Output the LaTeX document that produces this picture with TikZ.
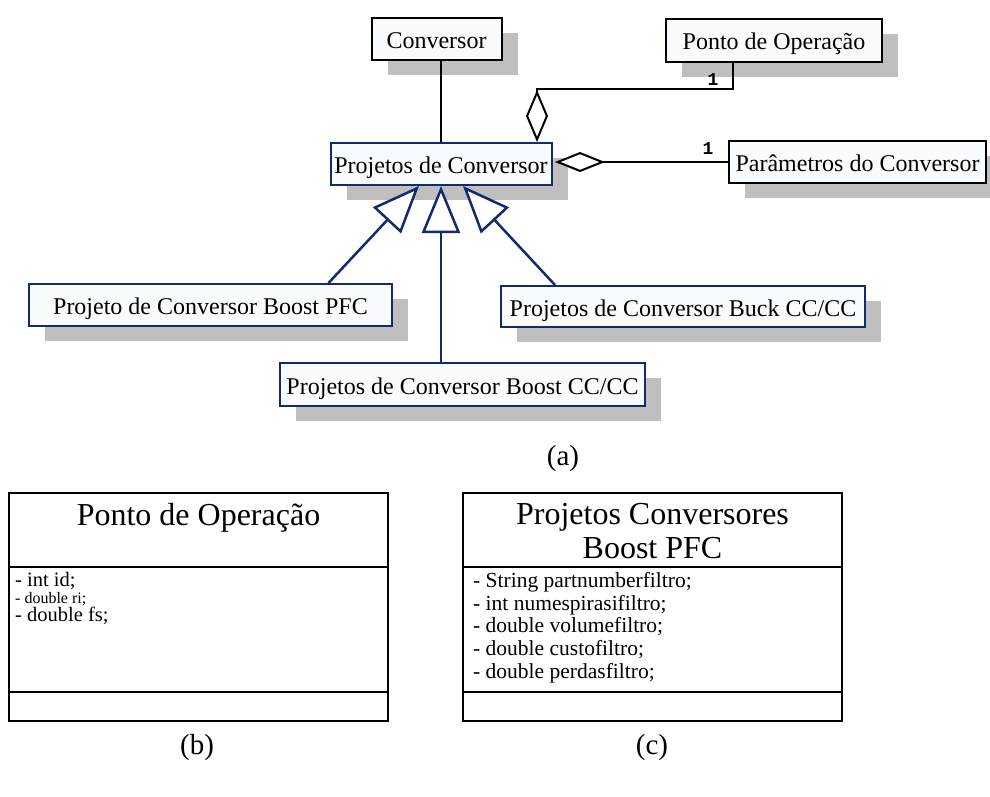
\documentclass[tikz,border=0pt]{standalone}
\usepackage{fontspec}
\setmainfont{Liberation Serif}
\newfontfamily\multfont{Liberation Mono}
\usetikzlibrary{arrows.meta,shadows}

\definecolor{umlblue}{RGB}{20,42,112}
\definecolor{shadowgray}{RGB}{191,191,191}
\definecolor{boxfill}{RGB}{248,252,255}

\newcommand\fs[1]{\fontsize{#1}{#1}\selectfont}

\tikzset{
    classbox/.style={draw=black, line width=2pt, fill=boxfill, inner sep=0pt,
        minimum height=42pt, font=\fs{24}, text height=19pt, text depth=0pt,
        general shadow={fill=shadowgray, shadow xshift=16pt, shadow yshift=-15pt}},
    subbox/.style={classbox, draw=umlblue},
    aggreg/.style={line width=2pt, -{Diamond[fill=white, length=52pt, width=22pt]}},
    herda/.style={draw=umlblue, line width=2.5pt, -{Triangle[fill=white, length=47pt, width=38pt]}},
    mult/.style={font=\multfont\bfseries\fs{18}, inner sep=0pt},
    legenda/.style={font=\fs{29}},
    attr/.style={anchor=base west, inner sep=0pt, font=\fs{21.5}, text height=14pt, text depth=4pt},
}

\begin{document}
\begin{tikzpicture}[x=1pt, y=-1pt]
    \useasboundingbox (0,0) rectangle (990,796);

    % (a) classes
    \node[classbox, minimum width=130pt] (conversor) at (436.5,39) {Conversor};
    \node[classbox, minimum width=216pt, minimum height=43pt] (ponto) at (774,40) {Ponto de Operação};
    \node[subbox, minimum width=221pt] (projetos) at (441,164) {Projetos de Conversor};
    \node[classbox, minimum width=257pt] (parametros) at (857.5,162) {Parâmetros do Conversor};
    \node[subbox, minimum width=363pt] (boostpfc) at (210.5,305) {Projeto de Conversor Boost PFC};
    \node[subbox, minimum width=364pt, minimum height=41pt] (buck) at (683,306.5) {Projetos de Conversor Buck CC/CC};
    \node[subbox, minimum width=365pt, minimum height=43pt] (boostcc) at (462.5,384.5) {Projetos de Conversor Boost CC/CC};

    % associations
    \draw[line width=2pt] (projetos.north) -- (projetos.north |- conversor.south);
    \draw[aggreg] ([xshift=68pt]ponto.south west) |- ([xshift=96pt,yshift=53pt]projetos.north)
        -- ([xshift=96pt]projetos.north);
    \node[mult] (multponto) at (713,80) {1};
    \draw[aggreg, -{Diamond[fill=white, length=50pt, width=20pt]}, shorten >=2.5pt]
        (parametros.west) -- (parametros.west -| projetos.east);
    \node[mult] (multparam) at (708,149) {1};

    % inheritance
    \draw[herda] ([xshift=118pt]boostpfc.north) -- ([xshift=-22pt]projetos.south);
    \draw[herda] (boostcc.north -| projetos.south) -- (projetos.south);
    \draw[herda] ([xshift=-128pt]buck.north) -- ([xshift=22pt]projetos.south);

    \node[legenda] (capa) at (563,459) {(a)};

    % (b) Ponto de Operacao
    \draw[line width=2.2pt] (9,493) rectangle (388,721);
    \draw[line width=2.2pt] (9,567) -- (388,567);
    \draw[line width=2.2pt] (9,692) -- (388,692);
    \node[anchor=base, inner sep=0pt, font=\fs{32}] (pontotitle) at (198.5,525) {Ponto de Operação};
    \node[attr, font=\fs{20.5}, text height=12pt, text depth=3.5pt] (pontoid) at (15,586) {- int id;};
    \node[attr, font=\fs{16}, text height=11pt, text depth=3.5pt] (pontori) at (15,603) {- double ri;};
    \node[attr, font=\fs{20.5}, text height=12pt, text depth=3.5pt] (pontofs) at (15,621) {- double fs;};
    \node[legenda] (capb) at (197,748) {(b)};

    % (c) Projetos Conversores Boost PFC
    \draw[line width=2.2pt] (463,493) rectangle (842,721);
    \draw[line width=2.2pt] (463,567) -- (842,567);
    \draw[line width=2.2pt] (463,692) -- (842,692);
    \node[anchor=base, inner sep=0pt, font=\fs{32}] (pfctitle) at (652.5,524) {Projetos Conversores};
    \node[anchor=base, inner sep=0pt, font=\fs{32}] (pfctitleb) at (652.5,558) {Boost PFC};
    \foreach \txt [count=\i] in {String partnumberfiltro;, int numespirasifiltro;,
        double volumefiltro;, double custofiltro;, double perdasfiltro;}
        \node[attr] (pfcattr\i) at (473,564.5+22.75*\i) {- \txt};
    \node[legenda] (capc) at (652,748) {(c)};
\end{tikzpicture}
\end{document}
